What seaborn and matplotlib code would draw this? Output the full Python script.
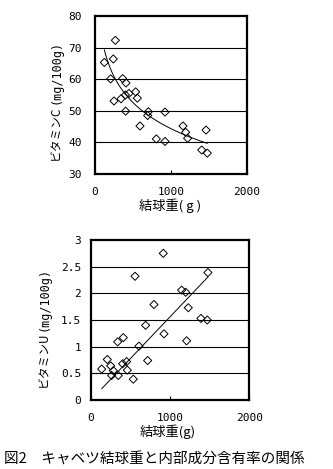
import numpy as np
import pandas as pd
import matplotlib
matplotlib.use("Agg")
import matplotlib.pyplot as plt
import seaborn as sns

# --- Data ---
vc_weight = [123, 268, 241, 206, 364, 408, 250, 342, 400, 447, 535, 557, 403,
             592, 702, 693, 921, 807, 921, 1158, 1193, 1219, 1461, 1404, 1478]
vc_value = [65.3, 72.3, 66.4, 60.1, 60.2, 58.8, 53.1, 53.8, 55.0, 55.5, 56.0, 54.0, 49.9,
            45.2, 49.7, 48.5, 49.6, 41.1, 40.3, 45.2, 43.2, 41.3, 43.9, 37.6, 36.6]

vu_weight = [913, 556, 1477, 1145, 1196, 795, 1229, 1389, 1469, 690, 922, 1208,
             337, 408, 606, 716, 206, 135, 249, 282, 261, 345, 400, 450, 459, 534]
vu_value = [2.75, 2.32, 2.39, 2.06, 2.02, 1.79, 1.73, 1.53, 1.50, 1.40, 1.24, 1.11,
            1.09, 1.17, 1.01, 0.74, 0.76, 0.58, 0.64, 0.55, 0.46, 0.46, 0.68, 0.72, 0.56, 0.39]

x_ticks = [0, 1000, 2000]
vc_yticks = [30, 40, 50, 60, 70, 80]
vu_yticks = [0, 0.5, 1, 1.5, 2, 2.5, 3]
vu_yticklabels = ["0", "0.5", "1", "1.5", "2", "2.5", "3"]

xlabel_top = "結球重( g )"
xlabel_bot = "結球重(g)"
ylabel_c = "ビタミンC"
ylabel_u = "ビタミンU"
unit = "(mg/100g)"
caption = "図2　キャベツ結球重と内部成分含有率の関係"

# --- Style ---
sns.set_theme(style="white")
plt.rcParams['font.family'] = ['Noto Sans CJK JP', 'DejaVu Sans']

W, H = 333, 469
fig = plt.figure(figsize=(W / 100, H / 100), dpi=100)

def fx(px):
    return px / W

def fy(py):
    return 1 - py / H

ax1 = fig.add_axes([fx(95), fy(174), fx(247) - fx(95), fy(16) - fy(174)])
ax2 = fig.add_axes([fx(91), fy(400), fx(249.3) - fx(91), fy(240) - fy(400)])

df_c = pd.DataFrame({"w": vc_weight, "v": vc_value})
df_u = pd.DataFrame({"w": vu_weight, "v": vu_value})

tick_font = dict(family='DejaVu Sans Mono', size=8)

for ax, df, yt, ytl in [
    (ax1, df_c, vc_yticks, [str(t) for t in vc_yticks]),
    (ax2, df_u, vu_yticks, vu_yticklabels),
]:
    sns.scatterplot(data=df, x="w", y="v", ax=ax, marker="D", s=17,
                    facecolors="none", edgecolor="black", linewidth=0.7, zorder=3)
    ax.set_xlim(0, 2000)
    ax.set_ylim(yt[0], yt[-1])
    ax.set_xticks(x_ticks)
    ax.set_xticklabels([str(t) for t in x_ticks], fontdict=tick_font)
    ax.set_yticks(yt)
    ax.set_yticklabels(ytl, fontdict=tick_font)
    for y in yt[1:-1]:
        ax.axhline(y, color="black", linewidth=0.8, zorder=1)
    for s in ax.spines.values():
        s.set_visible(True)
        s.set_color("black")
        s.set_linewidth(1.6)
    ax.tick_params(axis="x", direction="in", length=3, width=0.8, color="black",
                   pad=9.5, bottom=True, labelcolor="black")
    ax.tick_params(axis="y", direction="in", length=0, left=True, pad=7,
                   labelcolor="black")
    ax.set_facecolor("white")

# Trend lines: logarithmic (vitamin C), linear through origin (vitamin U)
sns.regplot(data=df_c, x="w", y="v", ax=ax1, scatter=False, ci=None, logx=True,
            color="black", line_kws=dict(linewidth=0.7), truncate=True)

w_u = np.asarray(vu_weight, dtype=float)
v_u = np.asarray(vu_value, dtype=float)
slope_u = (w_u * v_u).sum() / (w_u ** 2).sum()
line_u = pd.DataFrame({"w": [w_u.min(), w_u.max()]})
line_u["v"] = slope_u * line_u["w"]
sns.lineplot(data=line_u, x="w", y="v", ax=ax2, color="black", linewidth=0.7)

for ax in (ax1, ax2):
    ax.set_xlabel("")
    ax.set_ylabel("")

ax1.tick_params(axis="y", pad=9.5)
ax2.tick_params(axis="y", pad=7)

# x labels
fig.text(fx(170), fy(206), xlabel_top, ha="center", va="center", fontsize=9.5, color="black")
fig.text(fx(168), fy(432), xlabel_bot, ha="center", va="center", fontsize=9.5, color="black")

# y labels (two parts each)
unit_font = dict(family='DejaVu Sans Mono', size=8.5)
fig.text(fx(56), fy(160), ylabel_c, rotation=90, ha="center", va="bottom", fontsize=8.5, color="black")
fig.text(fx(56), fy(104), unit, rotation=90, ha="center", va="bottom", fontdict=unit_font, color="black")
fig.text(fx(44), fy(387), ylabel_u, rotation=90, ha="center", va="bottom", fontsize=8.5, color="black")
fig.text(fx(44), fy(331), unit, rotation=90, ha="center", va="bottom", fontdict=unit_font, color="black")

# caption
fig.text(fx(4), fy(459), caption, ha="left", va="center", fontsize=10.5, color="black")

fig.savefig("out.png", dpi=100, facecolor="white")
